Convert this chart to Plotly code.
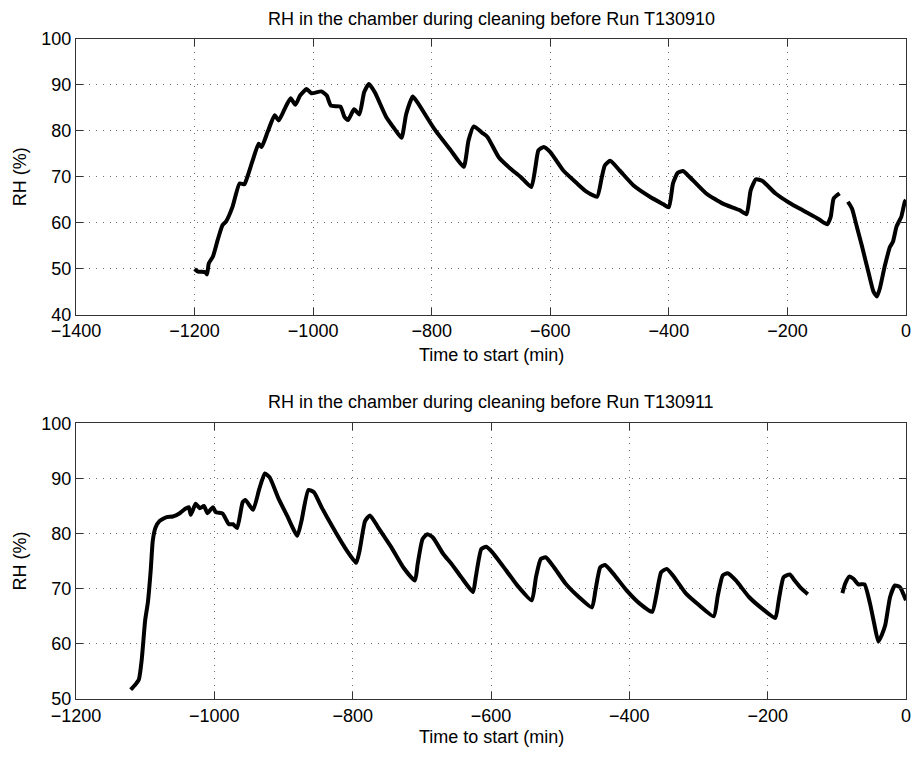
import plotly.graph_objects as go

# ---------------- data: run T130910 (top) ----------------
t1a = [-1200, -1194, -1182, -1179, -1176, -1169, -1161, -1153, -1147, -1136, -1124, -1116, -1111,
       -1102, -1092, -1087, -1077, -1065, -1058, -1048, -1038, -1030, -1022, -1011, -1003, -986,
       -977, -970, -954, -947, -941, -931, -922, -914, -906, -896, -877, -863, -851, -843, -832,
       -824, -796, -768, -746, -738, -729, -715, -706, -687, -667, -650, -632, -625, -620, -611,
       -600, -578, -555, -539, -521, -513, -508, -499, -483, -460, -432, -410, -400, -393, -385,
       -376, -365, -337, -309, -281, -269, -262, -253, -242, -220, -197, -175, -147, -133, -127,
       -122, -112]
rh1a = [50.0, 49.4, 49.3, 48.8, 51.2, 52.7, 56.3, 59.5, 60.3, 63.5, 68.6, 68.4, 70.0,
        73.6, 77.2, 76.5, 79.7, 83.4, 82.3, 84.8, 87.1, 85.7, 87.7, 89.1, 88.2, 88.6,
        87.7, 85.5, 85.3, 83.0, 82.4, 84.7, 83.6, 88.4, 90.2, 88.4, 83.1, 80.5, 78.5, 83.7, 87.5,
        86.2, 80.5, 75.8, 72.2, 77.9, 81.0, 79.6, 78.7, 74.3, 71.8, 70.0, 67.8, 72.2, 75.8, 76.5,
        75.4, 71.4, 68.6, 66.8, 65.7, 70.0, 72.5, 73.5, 71.4, 68.2, 65.7, 64.1, 63.4, 68.6, 70.9,
        71.3, 70.0, 66.4, 64.2, 62.8, 61.9, 67.1, 69.5, 69.1, 66.4, 64.4, 62.8, 60.8, 59.7, 61.3,
        65.3, 66.4]
t1b = [-98, -91, -83, -74, -63, -55, -49, -44, -36, -27, -22, -16, -8, -2, 0]
rh1b = [64.6, 63.1, 59.2, 54.8, 49.1, 45.1, 44.0, 45.8, 50.5, 54.8, 55.9, 59.2, 61.3, 64.6, 65.0]

# ---------------- data: run T130911 (bottom) ----------------
t2a = [-1121, -1115, -1109, -1105, -1100, -1096, -1092, -1089, -1085, -1079, -1069, -1060, -1050,
       -1042, -1037, -1034, -1027, -1021, -1015, -1010, -1002, -998, -988, -979, -973, -967,
       -959, -955, -944, -935, -927, -920, -907, -895, -880, -874, -864, -856, -845, -830, -813,
       -795, -790, -782, -775, -763, -744, -727, -710, -706, -699, -692, -684, -669, -657, -643,
       -626, -622, -614, -607, -598, -578, -562, -541, -535, -528, -521, -509, -492, -473, -454,
       -449, -442, -435, -423, -404, -385, -367, -361, -354, -346, -337, -318, -299, -278, -272,
       -265, -258, -246, -227, -208, -189, -184, -177, -168, -161, -151, -142]
rh2a = [51.7, 52.5, 53.6, 57.1, 64.3, 67.6, 73.3, 78.7, 81.1, 82.3, 83.0, 83.1, 83.7,
        84.5, 84.8, 83.4, 85.4, 84.6, 85.0, 83.7, 84.8, 83.9, 83.6, 81.7, 81.7, 81.0,
        85.7, 86.1, 84.3, 88.1, 90.9, 90.2, 86.3, 83.3, 79.6, 82.3, 87.9, 87.5, 84.8, 81.4, 77.8,
        74.7, 76.9, 82.3, 83.3, 81.1, 77.5, 73.9, 71.5, 74.5, 79.0, 79.9, 79.3, 76.3, 74.5, 72.1,
        69.4, 72.1, 77.2, 77.6, 76.6, 73.3, 70.6, 67.9, 72.1, 75.4, 75.7, 73.9, 70.9, 68.5, 66.6,
        69.7, 73.9, 74.3, 72.7, 69.7, 67.3, 65.8, 68.8, 73.0, 73.6, 72.4, 69.1, 67.0, 65.0, 68.8,
        72.4, 72.8, 71.5, 68.5, 66.4, 64.7, 67.9, 72.1, 72.6, 71.5, 70.0, 69.0]
t2b = [-92, -88, -82, -76, -69, -60, -52, -46, -40, -35, -30, -23, -16, -9, -5, 0]
rh2b = [69.2, 70.9, 72.2, 71.8, 70.8, 70.8, 67.3, 63.7, 60.4, 61.6, 63.4, 68.5, 70.6, 70.3, 69.4, 67.9]

title_top = "RH in the chamber during cleaning before Run T130910"
title_bot = "RH in the chamber during cleaning before Run T130911"
xlabel = "Time to start (min)"
ylabel = "RH (%)"

FONT = "Liberation Sans, Arial, Helvetica, sans-serif"
FS = 18
line_style = dict(color="black", width=4)

fig = go.Figure()
for tx, ry, xa, ya in [(t1a, rh1a, "x", "y"), (t1b, rh1b, "x", "y"),
                       (t2a, rh2a, "x2", "y2"), (t2b, rh2b, "x2", "y2")]:
    fig.add_trace(go.Scatter(x=tx, y=ry, mode="lines", line=dict(**line_style, shape="spline", smoothing=0.5),
                             xaxis=xa, yaxis=ya, showlegend=False, hoverinfo="skip"))

axis_common = dict(
    showline=True, linecolor="#333333", linewidth=1, mirror="ticks",
    ticks="inside", ticklen=7, tickcolor="#333333",
    showgrid=True, gridcolor="#707070", griddash="1px,5.7px", gridwidth=1,
    zeroline=False, tickfont=dict(family=FONT, size=FS, color="black"),
)

# the page body has an 8px margin, so the figure is sized to fit inside the window
fig.update_layout(
    width=913, height=757,
    margin=dict(l=68, r=10, t=31, b=66),
    paper_bgcolor="white", plot_bgcolor="white",
    font=dict(family=FONT, size=FS, color="black"),
    xaxis=dict(domain=[0, 1], range=[-1400, 0], tick0=-1400, dtick=200, anchor="y", **axis_common),
    yaxis=dict(domain=[0.582, 1], range=[40, 100], dtick=10, anchor="x", **axis_common),
    xaxis2=dict(domain=[0, 1], range=[-1200, 0], tick0=-1200, dtick=200, anchor="y2", **axis_common),
    yaxis2=dict(domain=[0, 0.4177], range=[50, 100], dtick=10, anchor="x2", **axis_common),
)

ann = []
ann.append(dict(text=title_top, x=0.5, y=1.0306, xref="paper", yref="paper", showarrow=False,
                xanchor="center", yanchor="middle", font=dict(size=FS)))
ann.append(dict(text=title_bot, x=0.5, y=0.4502, xref="paper", yref="paper", showarrow=False,
                xanchor="center", yanchor="middle", font=dict(size=FS)))
ann.append(dict(text=xlabel, x=0.5, y=0.5217, xref="paper", yref="paper", showarrow=False,
                xanchor="center", yanchor="middle", font=dict(size=FS)))
ann.append(dict(text=xlabel, x=0.5, y=-0.0571, xref="paper", yref="paper", showarrow=False,
                xanchor="center", yanchor="middle", font=dict(size=FS)))
ann.append(dict(text=ylabel, x=-0.067, y=0.791, xref="paper", yref="paper", showarrow=False,
                textangle=-90, xanchor="center", yanchor="middle", font=dict(size=FS)))
ann.append(dict(text=ylabel, x=-0.067, y=0.209, xref="paper", yref="paper", showarrow=False,
                textangle=-90, xanchor="center", yanchor="middle", font=dict(size=FS)))
fig.update_layout(annotations=ann)

fig.write_html("out.html")
